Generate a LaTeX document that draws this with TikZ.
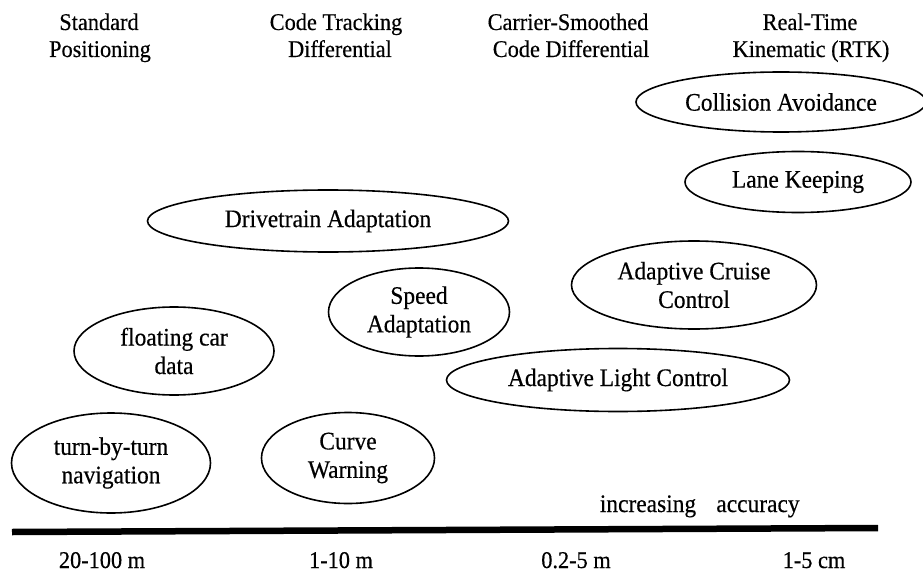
\documentclass[tikz,border=0pt]{standalone}
\usepackage{fontspec}
\setmainfont[FakeStretch=0.93, FakeBold=0.4]{Liberation Serif}
\usetikzlibrary{shapes.geometric}
\newcommand\hdrfont{\fontsize{24}{27}\selectfont}
\newcommand\ovfont{\fontsize{25.2}{28.5}\selectfont}
\tikzset{
  bubble/.style={ellipse, draw, line width=1.6pt, inner xsep=-10pt, inner ysep=-6pt,
                 align=center, font=\ovfont},
  hdr/.style={anchor=base, inner sep=0pt, font=\hdrfont},
  lbl/.style={anchor=base, inner sep=0pt, font=\ovfont},
}
\begin{document}
\begin{tikzpicture}[x=1pt,y=-1pt]
\useasboundingbox (0,0) rectangle (923,572);

% column headings: positioning techniques
\node[hdr] (sp1) at (99,30)  {Standard};
\node[hdr] (sp2) at (100,57) {Positioning};
\node[hdr] (ct1) at (336,30) {Code Tracking};
\node[hdr] (ct2) at (340,57) {Differential};
\node[hdr] (cs1) at (568,30) {Carrier-Smoothed};
\node[hdr] (cs2) at (571,57) {Code Differential};
\node[hdr] (rt1) at (810,30) {Real-Time};
\node[hdr] (rt2) at (811,57) {Kinematic (RTK)};

% applications
\node[bubble, minimum width=290pt, minimum height=60pt]  (ca)  at (781,102) {Collision Avoidance};
\node[bubble, minimum width=226pt, minimum height=61pt]  (lk)  at (798,182) {Lane Keeping};
\node[bubble, minimum width=361pt, minimum height=62pt]  (dta) at (328,221) {Drivetrain Adaptation};
\node[bubble, minimum width=181pt, minimum height=88pt]  (spa) at (419,312) {Speed\\Adaptation};
\node[bubble, minimum width=245pt, minimum height=88pt]  (acc) at (694,285) {Adaptive Cruise\\Control};
\node[bubble, minimum width=343pt, minimum height=63pt]  (alc) at (618,380) {Adaptive Light Control};
\node[bubble, minimum width=200pt, minimum height=88pt]  (fcd) at (174,351) {floating car\\data};
\node[bubble, minimum width=199pt, minimum height=100pt] (tbt) at (111,463) {turn-by-turn\\navigation};
\node[bubble, minimum width=173pt, minimum height=91pt]  (cw)  at (348,458) {Curve\\Warning};

% accuracy axis
\node[lbl] (inc)  at (648,512) {increasing};
\node[lbl] (accu) at (758,512) {accuracy};
\coordinate (axl) at (12,532);
\coordinate (axr) at (878,528);
\draw[line width=6.5pt] (axl) -- (axr);

% accuracy ranges
\node[hdr] (r1) at (102,568) {20-100 m};
\node[hdr] (r2) at (341,568) {1-10 m};
\node[hdr] (r3) at (576,568) {0.2-5 m};
\node[hdr] (r4) at (814,568) {1-5 cm};
\end{tikzpicture}
\end{document}
